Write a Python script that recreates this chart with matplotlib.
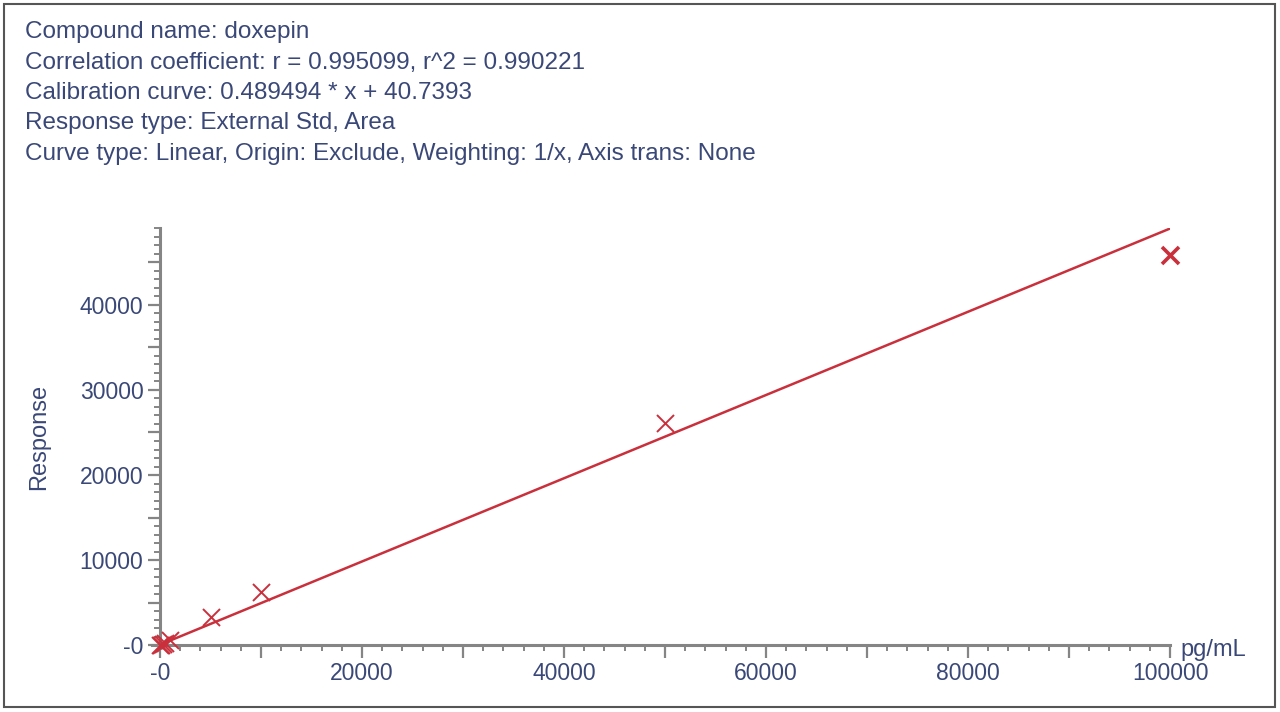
import matplotlib
matplotlib.use('Agg')
import matplotlib.pyplot as plt
from matplotlib.patches import Rectangle
from matplotlib.ticker import MultipleLocator

plt.rcParams['font.family'] = ['Liberation Sans', 'DejaVu Sans']

conc = [20, 100, 250, 500, 1000, 5000, 10000, 50000, 100000]
response = [20, 60, 140, 280, 560, 3300, 6230, 26100, 45880]

slope = 0.489494
intercept = 40.7393
fit_x = [0, 100000]

info_lines = [
    'Compound name: doxepin',
    'Correlation coefficient: r = 0.995099, r^2 = 0.990221',
    'Calibration curve: 0.489494 * x + 40.7393',
    'Response type: External Std, Area',
    'Curve type: Linear, Origin: Exclude, Weighting: 1/x, Axis trans: None',
]

xticks = [0, 10000, 20000, 30000, 40000, 50000, 60000, 70000, 80000, 90000, 100000]
xtick_labels = ['-0', '', '20000', '', '40000', '', '60000', '', '80000', '', '100000']
yticks = [0, 5000, 10000, 15000, 20000, 25000, 30000, 35000, 40000, 45000]
ytick_labels = ['-0', '', '10000', '', '20000', '', '30000', '', '40000', '']

text_col = '#3a4878'
red = '#c9303c'
axis_col = '#858585'
fs = 16.5

fig = plt.figure(figsize=(12.8, 7.12), dpi=100)

# outer frame
fig.patches.append(Rectangle((4 / 1280, 5 / 712), 1271 / 1280, 703 / 712,
                             transform=fig.transFigure, fill=False,
                             edgecolor='#555555', linewidth=1.5))

for i, line in enumerate(info_lines):
    fig.text(25 / 1280, 1 - (32 + i * 30.5) / 712, line, fontsize=17.5,
             color=text_col, va='center', ha='left')

ax = fig.add_axes([152 / 1280, (712 - 647.6) / 712, 1018 / 1280, 420 / 712])

ax.plot(fit_x, [slope * v + intercept for v in fit_x], color=red, linewidth=1.8)
ax.scatter(conc[:-1], response[:-1], marker='x', s=150, color=red,
           linewidths=1.4, zorder=3, clip_on=False)
ax.scatter(conc[-1:], response[-1:], marker='x', s=150, color=red,
           linewidths=2.6, zorder=3, clip_on=False)

ax.set_xlim(-800, 100000)
ax.set_ylim(-300, 49100)

for side in ['top', 'right']:
    ax.spines[side].set_visible(False)
ax.spines['left'].set_position(('data', 0))
ax.spines['bottom'].set_position(('data', 0))
for side in ['left', 'bottom']:
    ax.spines[side].set_color(axis_col)
    ax.spines[side].set_linewidth(2.2)

ax.set_xticks(xticks, xtick_labels)
ax.set_yticks(yticks, ytick_labels)
ax.xaxis.set_minor_locator(MultipleLocator(2000))
ax.yaxis.set_minor_locator(MultipleLocator(1000))
ax.tick_params(which='major', length=9, width=1.6, color=axis_col,
               labelsize=fs, labelcolor=text_col, pad=3)
ax.tick_params(which='minor', length=4.5, width=1.4, color=axis_col)

ax.set_ylabel('Response', fontsize=17, color=text_col)
ax.yaxis.set_label_coords(-102 / 1018, (647.6 - 437) / 420)
ax.text(1.01, -0.005, 'pg/mL', transform=ax.transAxes, fontsize=17,
        color=text_col, ha='left', va='center')

fig.savefig('out.png', dpi=100)
